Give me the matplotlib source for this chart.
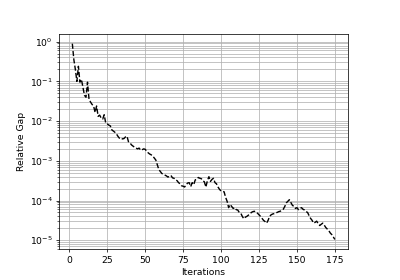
import numpy as np
import matplotlib
matplotlib.use("Agg")
import matplotlib.pyplot as plt

# iterations and log10 of the relative gap
iterations = list(range(2, 176))
log_gap = [
    -0.05, -0.45, -0.70, -1.00, -0.62, -1.02, -0.95, -1.15, -1.35, -1.40,   # 2-11
    -1.02, -1.45, -1.52, -1.58, -1.62, -1.78, -1.62, -1.88, -1.85, -1.92,   # 12-21
    -1.95, -1.84, -2.05, -2.07, -2.10, -2.12, -2.22, -2.25, -2.28, -2.32,   # 22-31
    -2.38, -2.43, -2.42, -2.45, -2.44, -2.40, -2.38, -2.52, -2.55, -2.60,   # 32-41
    -2.63, -2.66, -2.68, -2.70, -2.68, -2.73, -2.72, -2.70, -2.71, -2.76,   # 42-51
    -2.80, -2.83, -2.85, -2.88, -2.93, -2.98, -3.10, -3.22, -3.27, -3.32,   # 52-61
    -3.34, -3.36, -3.38, -3.41, -3.39, -3.37, -3.43, -3.44, -3.48, -3.50,   # 62-71
    -3.55, -3.58, -3.63, -3.64, -3.66, -3.60, -3.56, -3.55, -3.65, -3.55,   # 72-81
    -3.60, -3.48, -3.47, -3.42, -3.44, -3.45, -3.50, -3.53, -3.66, -3.50,   # 82-91
    -3.40, -3.52, -3.47, -3.44, -3.55, -3.58, -3.66, -3.72, -3.76, -3.77,   # 92-101
    -3.78, -3.92, -4.02, -4.18, -4.10, -4.15, -4.20, -4.18, -4.23, -4.24,   # 102-111
    -4.30, -4.32, -4.40, -4.46, -4.42, -4.40, -4.37, -4.34, -4.30, -4.28,   # 112-121
    -4.27, -4.30, -4.32, -4.36, -4.40, -4.45, -4.50, -4.53, -4.57, -4.50,   # 122-131
    -4.40, -4.36, -4.34, -4.33, -4.31, -4.30, -4.28, -4.27, -4.25, -4.22,   # 132-141
    -4.15, -4.06, -4.02, -3.98, -4.05, -4.12, -4.15, -4.20, -4.18, -4.23,   # 142-151
    -4.20, -4.18, -4.22, -4.24, -4.28, -4.30, -4.38, -4.45, -4.50, -4.57,   # 152-161
    -4.55, -4.52, -4.58, -4.63, -4.60, -4.57, -4.62, -4.68, -4.72, -4.76,   # 162-171
    -4.82, -4.86, -4.92, -4.98,                                             # 172-175
]
gap = 10 ** np.array(log_gap)

# reference looks like a default-sized figure drawn at a low dpi
fig, ax = plt.subplots(figsize=(6, 4.2), dpi=400 / 6)
fig.subplots_adjust(left=0.148, right=0.87, bottom=0.11, top=0.879)

ax.semilogy(iterations, gap, 'k--')
ax.grid(True, which='both')
ax.set_xlabel('Iterations')
ax.set_ylabel('Relative Gap')

fig.savefig('out.png')
